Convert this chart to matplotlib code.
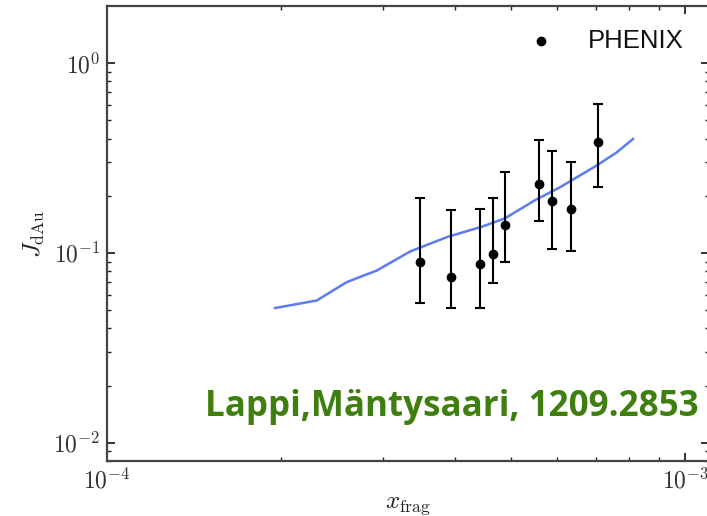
import matplotlib
matplotlib.use("Agg")
import matplotlib.pyplot as plt
import numpy as np
from matplotlib.ticker import LogLocator, NullFormatter, FuncFormatter

plt.rcParams['mathtext.fontset'] = 'cm'

# PHENIX data
phenix_x = [3.48e-4, 3.94e-4, 4.41e-4, 4.65e-4, 4.89e-4, 5.59e-4, 5.89e-4, 6.36e-4, 7.08e-4]
phenix_y = [0.090, 0.075, 0.087, 0.099, 0.140, 0.230, 0.187, 0.170, 0.383]
phenix_hi = [0.195, 0.168, 0.171, 0.195, 0.266, 0.391, 0.343, 0.302, 0.606]
phenix_lo = [0.0546, 0.0514, 0.0514, 0.0695, 0.0892, 0.147, 0.1046, 0.102, 0.222]

# Theory curve
curve_x = [1.953e-4, 2.306e-4, 2.598e-4, 2.929e-4, 3.344e-4, 3.884e-4, 4.443e-4,
           4.882e-4, 5.511e-4, 6.053e-4, 7.015e-4, 7.613e-4, 8.128e-4]
curve_y = [0.0512, 0.0561, 0.0701, 0.0807, 0.1016, 0.1214, 0.137,
           0.152, 0.190, 0.220, 0.287, 0.3376, 0.398]

fig = plt.figure(figsize=(7.07, 5.16), dpi=100)
ax = fig.add_axes([107/707, 1-461.3/516, (709-107)/707, (461.3-6)/516])

ax.plot(curve_x, curve_y, color='#5b7cf2', lw=1.8, zorder=2)

yerr = [np.array(phenix_y) - np.array(phenix_lo), np.array(phenix_hi) - np.array(phenix_y)]
ax.errorbar(phenix_x, phenix_y, yerr=yerr, fmt='o', color='black', ms=6,
            elinewidth=1.5, capsize=3.8, capthick=1.5, zorder=3)

ax.set_xscale('log')
ax.set_yscale('log')
ax.set_xlim(1e-4, 1.1e-3)
ax.set_ylim(10**-2.098, 10**0.3)

fmt = FuncFormatter(lambda v, p: r'$10^{%d}$' % int(round(np.log10(v))))
ax.xaxis.set_major_locator(LogLocator(base=10, numticks=10))
ax.yaxis.set_major_locator(LogLocator(base=10, numticks=10))
ax.xaxis.set_major_formatter(fmt)
ax.yaxis.set_major_formatter(fmt)
ax.xaxis.set_minor_locator(LogLocator(base=10, subs=np.arange(2, 10), numticks=20))
ax.yaxis.set_minor_locator(LogLocator(base=10, subs=np.arange(2, 10), numticks=20))
ax.xaxis.set_minor_formatter(NullFormatter())
ax.yaxis.set_minor_formatter(NullFormatter())

ax.tick_params(which='both', direction='in', top=True, right=True, colors='#222222',
               labelcolor='#333333', labelsize=17)
ax.tick_params(which='major', length=6, width=1.3)
ax.tick_params(which='minor', length=3, width=1.0)
ax.tick_params(axis='x', which='major', pad=5)
ax.tick_params(axis='y', which='major', pad=5)
for s in ax.spines.values():
    s.set_color('#444444')
    s.set_linewidth(1.6)

ax.set_xlabel(r'$x_{\rm frag}$', fontsize=18, labelpad=0, color='#222222')
ax.set_ylabel(r'$J_{\rm dAu}$', fontsize=18, labelpad=4, color='#222222')

# legend
ax.plot([5.635e-4], [1.305], 'o', color='black', ms=6)
ax.text(6.8e-4, 1.305, 'PHENIX', fontsize=18.5, family='Liberation Sans',
        va='center', ha='left', color='#111111')

# annotation
t = fig.text(205/707, 1-416/516, 'Lappi,Mäntysaari, 1209.2853', fontsize=28,
             family='Open Sans', fontweight='bold', color='#3f7f0f',
             ha='left', va='baseline')
fig.canvas.draw()
w = t.get_window_extent().width
t.set_fontsize(28 * 492 / w)

fig.savefig('out.png', dpi=100)
